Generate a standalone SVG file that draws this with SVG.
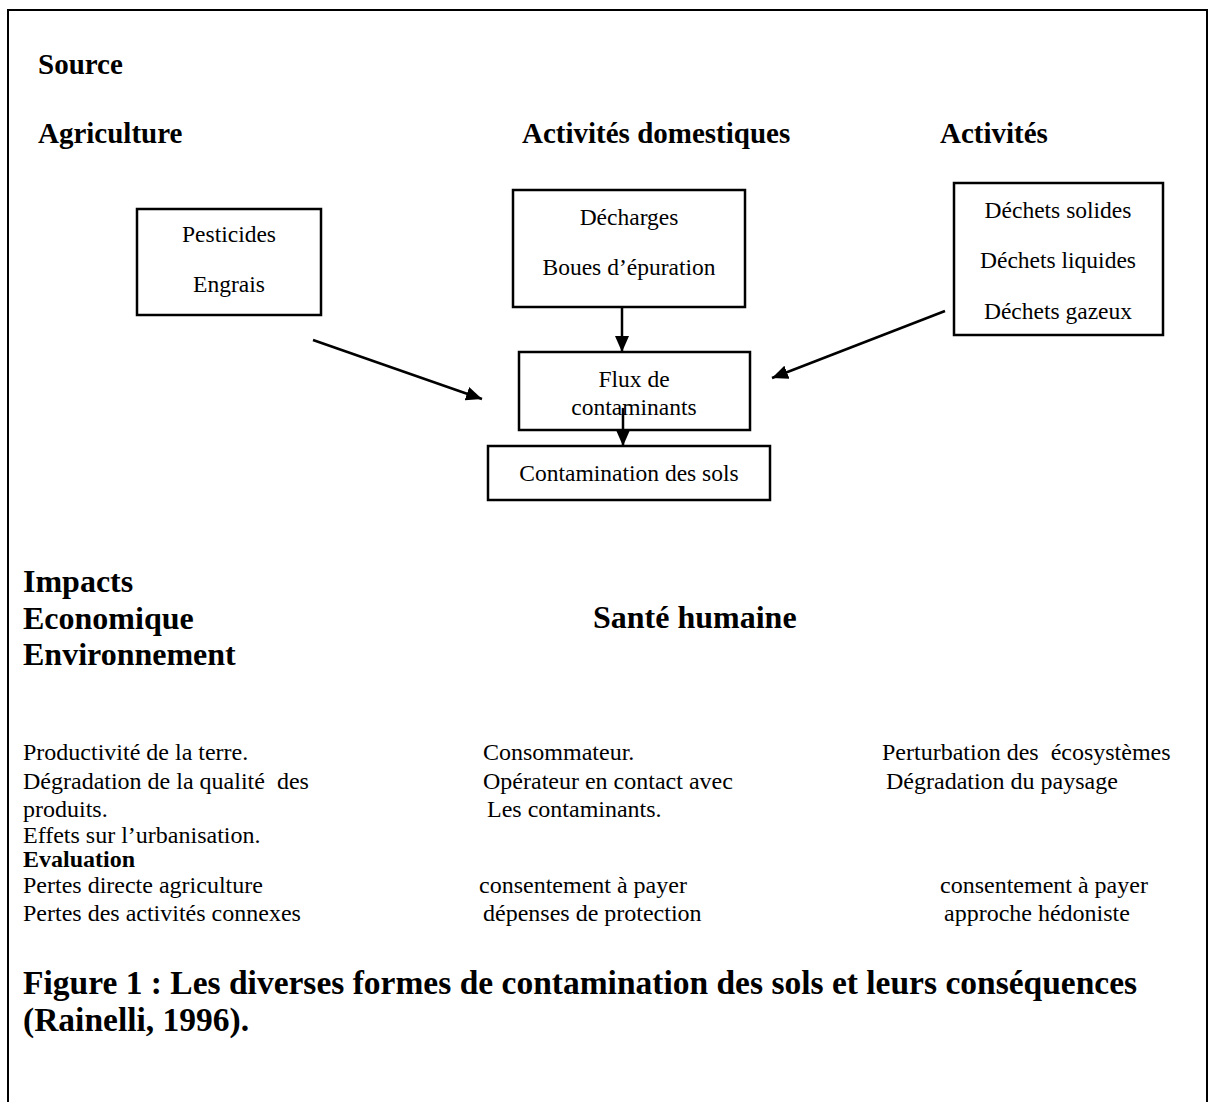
<svg xmlns="http://www.w3.org/2000/svg" width="1211" height="1102" viewBox="0 0 1211 1102">
<style>
text{font-family:"Liberation Serif","Times New Roman",serif;fill:#000;white-space:pre}
.h{font-size:29px;font-weight:bold}
.H{font-size:32px;font-weight:bold}
.cap{font-size:33.5px;font-weight:bold}
.b{font-size:23.5px}
.t{font-size:24px}
.tb{font-size:24px;font-weight:bold}
.box{fill:#fff;stroke:#000;stroke-width:2.5}
.c{text-anchor:middle}
.arr{stroke:#000;stroke-width:2.5;fill:none;marker-end:url(#ah)}
</style>
<defs>
<marker id="ah" viewBox="0 0 16 14" refX="16" refY="7" markerWidth="16" markerHeight="14" markerUnits="userSpaceOnUse" orient="auto">
<path d="M0,0 L16,7 L0,14 z" fill="#000"/>
</marker>
</defs>
<rect x="0" y="0" width="1211" height="1102" fill="#fff"/>
<rect x="8" y="10" width="1199" height="1110" fill="none" stroke="#000" stroke-width="2"/>
<g id="headings">
<text class="h" x="38" y="74">Source</text>
<text class="h" x="38" y="143">Agriculture</text>
<text class="h" x="522" y="143">Activités domestiques</text>
<text class="h" x="940" y="143">Activités</text>
</g>
<g id="node-agriculture">
<rect class="box" x="137" y="209" width="184" height="106"/>
<text class="b c" x="229" y="242">Pesticides</text>
<text class="b c" x="229" y="292">Engrais</text>
</g>
<g id="node-domestique">
<rect class="box" x="513" y="190" width="232" height="117"/>
<text class="b c" x="629" y="225">Décharges</text>
<text class="b c" x="629" y="275">Boues d’épuration</text>
</g>
<g id="node-activites">
<rect class="box" x="954" y="183" width="209" height="152"/>
<text class="b c" x="1058" y="218">Déchets solides</text>
<text class="b c" x="1058" y="268">Déchets liquides</text>
<text class="b c" x="1058" y="319">Déchets gazeux</text>
</g>
<g id="node-flux">
<rect class="box" x="519" y="352" width="231" height="78"/>
<text class="b c" x="634" y="387">Flux de</text>
<text class="b c" x="634" y="415">contaminants</text>
</g>
<g id="node-contamination">
<rect class="box" x="488" y="446" width="282" height="54"/>
<text class="b c" x="629" y="481">Contamination des sols</text>
</g>
<g id="connectors">
<line class="arr" x1="313" y1="340" x2="482" y2="399"/>
<line class="arr" x1="945" y1="311" x2="772" y2="378"/>
<line class="arr" x1="622" y1="307" x2="622" y2="352"/>
<line class="arr" x1="623" y1="408" x2="623" y2="446"/>
</g>
<g id="impacts">
<text class="H" x="23" y="592">Impacts</text>
<text class="H" x="23" y="629">Economique</text>
<text class="H" x="23" y="665">Environnement</text>
<text class="H" x="593" y="628">Santé humaine</text>
</g>
<g id="details">
<text class="t" x="23" y="760">Productivité de la terre.</text>
<text class="t" x="23" y="789">Dégradation de la qualité  des</text>
<text class="t" x="23" y="817">produits.</text>
<text class="t" x="23" y="843">Effets sur l’urbanisation.</text>
<text class="tb" x="23" y="867">Evaluation</text>
<text class="t" x="23" y="893">Pertes directe agriculture</text>
<text class="t" x="23" y="921">Pertes des activités connexes</text>
<text class="t" x="483" y="760">Consommateur.</text>
<text class="t" x="483" y="789">Opérateur en contact avec</text>
<text class="t" x="487" y="817">Les contaminants.</text>
<text class="t" x="479" y="893">consentement à payer</text>
<text class="t" x="483" y="921">dépenses de protection</text>
<text class="t" x="882" y="760">Perturbation des  écosystèmes</text>
<text class="t" x="886" y="789">Dégradation du paysage</text>
<text class="t" x="940" y="893">consentement à payer</text>
<text class="t" x="944" y="921">approche hédoniste</text>
</g>
<g id="caption">
<text class="cap" x="23" y="994">Figure 1 : Les diverses formes de contamination des sols et leurs conséquences</text>
<text class="cap" x="23" y="1031">(Rainelli, 1996).</text>
</g>
</svg>
